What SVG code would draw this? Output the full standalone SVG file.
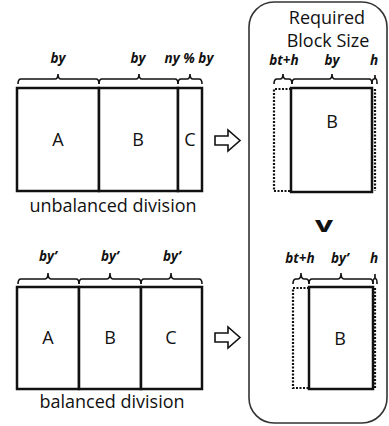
<svg xmlns="http://www.w3.org/2000/svg" width="389" height="426" viewBox="0 0 389 426">
<style>
.cell{fill:#fff;stroke:#111;stroke-width:2.5}
.dot{fill:none;stroke:#111;stroke-width:2.2;stroke-dasharray:2,1.5}
.br{fill:none;stroke:#111;stroke-width:1.6}
.lbl{font-family:"Open Sans","DejaVu Sans",sans-serif;font-size:18px;fill:#111;text-anchor:middle}
.cap{font-family:"Open Sans","DejaVu Sans",sans-serif;font-size:18px;fill:#111;text-anchor:middle}
.bl{font-family:"Open Sans","DejaVu Sans",sans-serif;font-size:13.5px;font-weight:bold;font-style:italic;fill:#111;text-anchor:middle}
.arr{fill:#fff;stroke:#111;stroke-width:1.6;stroke-linejoin:miter}
</style>
<rect width="389" height="426" fill="#fff"/>
<g id="container">
<rect x="249" y="2" width="138" height="421" rx="25" ry="25" fill="none" stroke="#333" stroke-width="1.6"/>
<text class="cap" x="327" y="24">Required</text>
<text class="cap" x="328" y="47">Block Size</text>
</g>
<g id="uA"><rect class="cell" x="17" y="88" width="82" height="103"/><text class="lbl" x="58" y="146">A</text></g>
<g id="uB"><rect class="cell" x="99" y="88" width="79" height="103"/><text class="lbl" x="138" y="146">B</text></g>
<g id="uC"><rect class="cell" x="178" y="88" width="24" height="103"/><text class="lbl" x="190" y="146">C</text></g>
<text class="cap" x="113" y="212">unbalanced division</text>
<g id="bA"><rect class="cell" x="17" y="287" width="62" height="102"/><text class="lbl" x="48" y="344">A</text></g>
<g id="bB"><rect class="cell" x="79" y="287" width="62" height="102"/><text class="lbl" x="110" y="344">B</text></g>
<g id="bC"><rect class="cell" x="141" y="287" width="61" height="102"/><text class="lbl" x="171" y="344">C</text></g>
<text class="cap" x="112" y="408">balanced division</text>
<g id="rB1">
<path class="dot" d="M291,89 H274 V191 H291"/>
<line class="dot" x1="375" y1="89" x2="375" y2="191"/>
<rect class="cell" x="291" y="88" width="81" height="104"/>
<text class="lbl" x="332" y="128">B</text>
</g>
<g id="rB2">
<path class="dot" d="M309,288 H293 V388 H309"/>
<line class="dot" x1="375" y1="288" x2="375" y2="388"/>
<rect class="cell" x="309" y="287" width="64" height="102"/>
<text class="lbl" x="340" y="345">B</text>
</g>
<text id="ge" x="324" y="232" font-family="'Open Sans','DejaVu Sans',sans-serif" font-size="22" font-weight="bold" fill="#111" text-anchor="middle" textLength="18" lengthAdjust="spacingAndGlyphs">v</text>
<g id="connectors">
<polygon class="arr" points="215,136 228,136 228,130 240,140.5 228,151 228,145 215,145"/>
<polygon class="arr" points="215,333 228,333 228,327 240,337.5 228,348 228,342 215,342"/>
<path class="br" d="M18,84 Q18,79 21,79 H55 Q58,79 58,74 Q58,79 61,79 H96 Q99,79 99,84"/>
<path class="br" d="M99,84 Q99,79 102,79 H136 Q139,79 139,74 Q139,79 142,79 H175 Q178,79 178,84"/>
<path class="br" d="M178,84 Q178,79 181,79 H187 Q190,79 190,74 Q190,79 193,79 H199 Q202,79 202,84"/>
<path class="br" d="M18,284 Q18,279 21,279 H45 Q48,279 48,273 Q48,279 51,279 H76 Q79,279 79,284"/>
<path class="br" d="M79,284 Q79,279 82,279 H107 Q110,279 110,273 Q110,279 113,279 H138 Q141,279 141,284"/>
<path class="br" d="M141,284 Q141,279 144,279 H168 Q171,279 171,273 Q171,279 174,279 H199 Q202,279 202,284"/>
<path class="br" d="M274,84 Q274,79 277,79 H280 Q283,79 283,74 Q283,79 286,79 H289 Q292,79 292,84"/>
<path class="br" d="M292,84 Q292,79 295,79 H329 Q332,79 332,74 Q332,79 335,79 H369 Q372,79 372,84"/>
<path class="br" d="M372,84 Q372,79 374,79 Q375,79 375,75 Q375,79 376,79 Q377,79 377,84"/>
<path class="br" d="M293,284 Q293,279 296,279 H298 Q301,279 301,273 Q301,279 304,279 H306 Q309,279 309,284"/>
<path class="br" d="M309,284 Q309,279 312,279 H338 Q341,279 341,273 Q341,279 344,279 H370 Q373,279 373,284"/>
<path class="br" d="M373,284 Q373,279 374,279 Q375,279 375,274 Q375,279 376,279 Q377,279 377,284"/>
</g>
<text class="bl" x="58" y="63">by</text>
<text class="bl" x="138" y="63">by</text>
<text class="bl" x="189" y="63">ny % by</text>
<text class="bl" x="48" y="261">by’</text>
<text class="bl" x="110" y="261">by’</text>
<text class="bl" x="172" y="261">by’</text>
<text class="bl" x="284" y="65">bt+h</text>
<text class="bl" x="332" y="65">by</text>
<text class="bl" x="374" y="65">h</text>
<text class="bl" x="300" y="263">bt+h</text>
<text class="bl" x="340" y="263">by’</text>
<text class="bl" x="374" y="263">h</text>
</svg>
